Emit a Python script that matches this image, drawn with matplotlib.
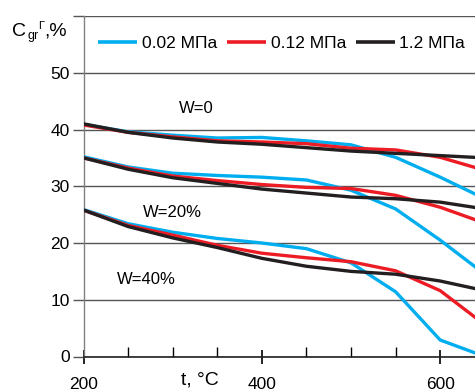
import matplotlib
matplotlib.use("Agg")
import matplotlib.pyplot as plt
from matplotlib.ticker import MultipleLocator

plt.rcParams["font.family"] = ["Liberation Sans", "DejaVu Sans"]

# --- Daten ---
t = [200, 250, 300, 350, 400, 450, 500, 550, 600, 650]

w0_002 = [40.9, 39.6, 39.0, 38.5, 38.6, 38.0, 37.3, 35.1, 31.6, 27.8]
w0_012 = [40.8, 39.5, 38.7, 38.0, 37.8, 37.5, 36.7, 36.4, 35.1, 32.8]
w0_12 = [41.0, 39.5, 38.5, 37.8, 37.4, 36.8, 36.2, 35.8, 35.4, 35.0]

w20_002 = [35.2, 33.4, 32.3, 31.9, 31.6, 31.1, 29.3, 26.0, 20.5, 14.5]
w20_012 = [35.0, 33.2, 31.8, 31.0, 30.3, 29.8, 29.6, 28.4, 26.3, 23.5]
w20_12 = [35.0, 33.0, 31.5, 30.5, 29.5, 28.8, 28.1, 27.8, 27.2, 26.0]

w40_002 = [25.9, 23.4, 21.9, 20.8, 20.0, 19.0, 16.5, 11.4, 2.9, 0.0]
w40_012 = [25.8, 23.1, 21.4, 19.6, 18.2, 17.4, 16.7, 15.1, 11.6, 5.6]
w40_12 = [25.8, 22.9, 20.9, 19.2, 17.3, 15.9, 15.0, 14.5, 13.3, 11.6]

labels = ["0.02 МПа", "0.12 МПа", "1.2 МПа"]
colors = ["#00aeef", "#ed1c24", "#231f20"]

groups = [
    (w0_002, w0_012, w0_12),
    (w20_002, w20_012, w20_12),
    (w40_002, w40_012, w40_12),
]

W, H = 475, 392
fig = plt.figure(figsize=(W / 100, H / 100), dpi=100)
ax = fig.add_axes([83.5 / W, 1 - 356.5 / H, 1 - 83.5 / W, (356.5 - 16) / H])

for gi, grp in enumerate(groups):
    for si, ys in enumerate(grp):
        ax.plot(t, ys, color=colors[si], lw=2.4, solid_capstyle="butt",
                label=labels[si] if gi == 0 else None, zorder=3 + si)

ax.set_xlim(200, 639)
ax.set_ylim(0, 60)

# Achsen
for s in ("top", "right"):
    ax.spines[s].set_visible(False)
ax.spines["left"].set_color("#808080")
ax.spines["left"].set_linewidth(1.0)
ax.spines["bottom"].set_color("#231f20")
ax.spines["bottom"].set_linewidth(1.2)

ax.set_yticks([0, 10, 20, 30, 40, 50, 60])
ax.set_yticklabels(["0", "10", "20", "30", "40", "50", ""])
ax.yaxis.grid(True, color="#555555", lw=1.0, zorder=1)
ax.tick_params(axis="y", length=8, width=1.0, color="#555555",
               labelsize=12.5, pad=2)

ax.set_xticks([200, 400, 600])
ax.xaxis.set_minor_locator(MultipleLocator(50))
ax.tick_params(axis="x", which="major", direction="inout", length=10,
               width=1.2, labelsize=12.5, pad=9.5)
ax.tick_params(axis="x", which="minor", direction="in", length=7, width=1.0)

# Beschriftungen
ax.text(330, -4.2, "t, °C", fontsize=14, ha="center", va="center",
        clip_on=False)
ax.text(327, 43.7, "W=0", fontsize=12, ha="center", va="center")
ax.text(300, 25.4, "W=20%", fontsize=12, ha="center", va="center")
ax.text(271, 13.6, "W=40%", fontsize=12, ha="center", va="center")

# y-Achsentitel C_gr^Г, %
fig.text(12 / W, 1 - 31 / H, "C", fontsize=14, ha="left", va="center")
fig.text(27 / W, 1 - 36 / H, "gr", fontsize=9, ha="left", va="center")
fig.text(38 / W, 1 - 26 / H, "Г", fontsize=8, ha="left", va="center")
fig.text(44 / W, 1 - 31 / H, ",%", fontsize=14, ha="left", va="center")

leg = ax.legend(loc="center left", bbox_to_anchor=(98 / W, 1 - 43 / H),
                bbox_transform=fig.transFigure, ncol=3, frameon=False,
                fontsize=12.5, handlelength=2.25, handletextpad=0.28,
                columnspacing=0.55, borderpad=0, borderaxespad=0)
for ln in leg.get_lines():
    ln.set_linewidth(2.6)

fig.savefig("out.png", dpi=100)
